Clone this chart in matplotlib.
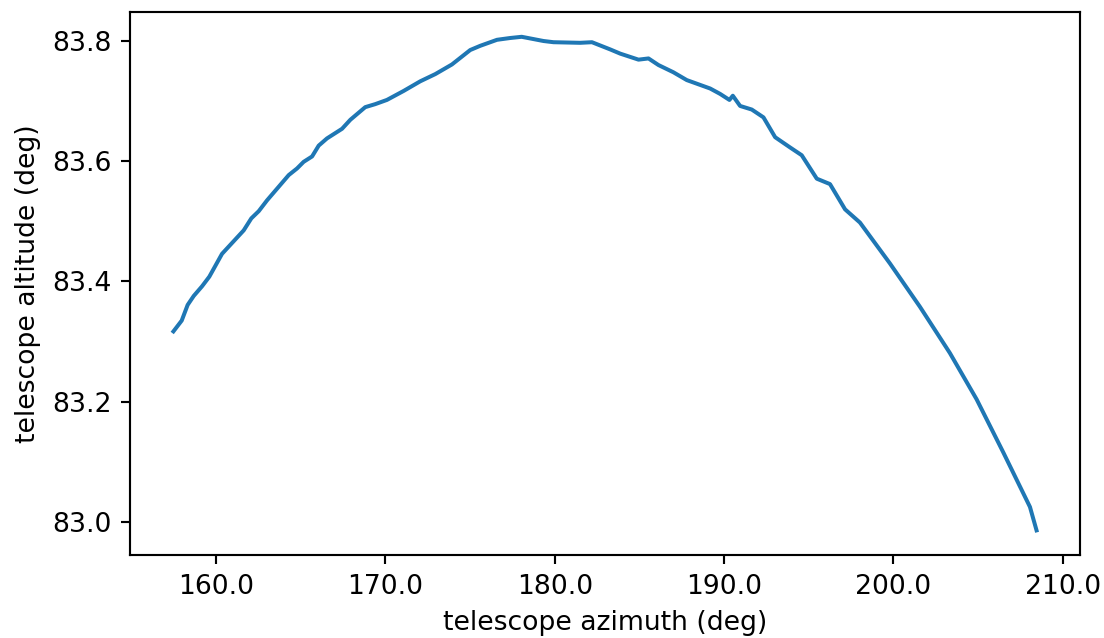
import matplotlib
matplotlib.use("Agg")
import matplotlib.pyplot as plt
from matplotlib.ticker import FormatStrFormatter

# Telescope pointing track
azimuth = [157.48, 157.97, 158.32, 158.68, 159.17, 159.60, 160.35, 161.63, 162.08,
           162.52, 163.01, 164.29, 164.78, 165.17, 165.67, 166.06, 166.55, 167.44,
           167.93, 168.81, 169.40, 170.09, 171.08, 172.06, 172.95, 173.93, 175.01,
           175.60, 176.59, 177.37, 178.05, 179.34, 179.93, 181.50, 182.20, 183.28,
           183.87, 184.95, 185.54, 186.13, 187.01, 187.80, 188.49, 189.18, 189.77,
           190.32, 190.52, 190.95, 191.64, 192.33, 193.02, 193.90, 194.59, 195.48,
           196.26, 197.15, 198.03, 199.80, 201.57, 203.34, 204.92, 206.49, 208.07,
           208.46]
altitude = [83.317, 83.335, 83.361, 83.376, 83.392, 83.408, 83.446, 83.485, 83.505,
            83.517, 83.535, 83.577, 83.588, 83.599, 83.608, 83.626, 83.638, 83.654,
            83.669, 83.690, 83.695, 83.702, 83.717, 83.733, 83.745, 83.761, 83.785,
            83.792, 83.802, 83.805, 83.807, 83.800, 83.798, 83.797, 83.798, 83.786,
            83.779, 83.769, 83.771, 83.760, 83.748, 83.735, 83.728, 83.721, 83.712,
            83.702, 83.709, 83.692, 83.686, 83.673, 83.640, 83.623, 83.610, 83.571,
            83.562, 83.520, 83.498, 83.430, 83.358, 83.281, 83.204, 83.116, 83.025,
            82.986]

fig, ax = plt.subplots(figsize=(5.75, 638 / 192), dpi=192)
ax.plot(azimuth, altitude, color="#1f77b4", linewidth=1.5)

ax.set_xlabel("telescope azimuth (deg)")
ax.set_ylabel("telescope altitude (deg)")
ax.xaxis.set_major_formatter(FormatStrFormatter("%.1f"))
ax.set_yticks([83.0, 83.2, 83.4, 83.6, 83.8])

fig.subplots_adjust(left=0.118, right=0.978, bottom=0.13, top=0.981)
fig.savefig("out.png", dpi=192)
